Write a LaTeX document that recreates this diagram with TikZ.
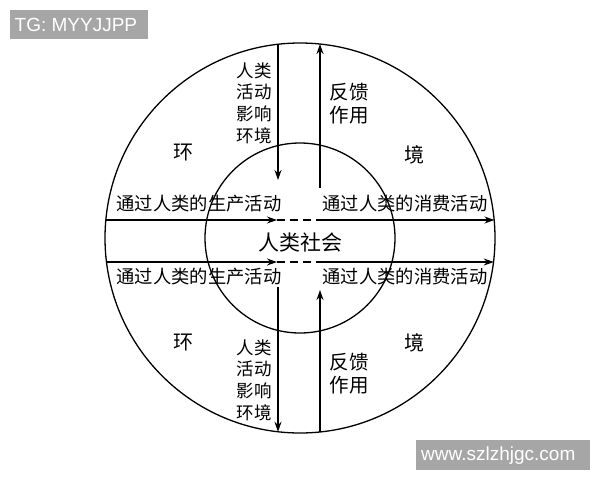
\documentclass[tikz,border=0pt]{standalone}
\usepackage{fontspec}
\newfontfamily\cjk{Noto Sans CJK SC}
\newfontfamily\wm{Liberation Sans}
\usetikzlibrary{arrows.meta}
\begin{document}
\begin{tikzpicture}[x=1pt,y=-1pt,
  ln/.style={line width=1.3pt},
  arr/.style={ln,-{Stealth[length=10pt,width=7pt]}},
  dsh/.style={ln,dash pattern=on 8pt off 5pt},
  lbl/.style={font=\cjk\fontsize{17.5}{21.7}\selectfont,inner sep=0pt,align=center},
  fb/.style={font=\cjk\fontsize{19.5}{23}\selectfont,inner sep=0pt,align=center},
  big/.style={font=\cjk\fontsize{20}{22}\selectfont,inner sep=0pt},
  wmtext/.style={text=white,font=\wm\fontsize{19}{22}\selectfont,inner sep=0pt,anchor=west}]
\useasboundingbox (0,0) rectangle (600,480);
\fill[white] (0,0) rectangle (600,480);
% watermarks
\fill[black!35] (10,10) rectangle (148,39);
\node[wmtext] (tg) at (14.5,25) {TG: MYYJJPP};
\fill[black!35] (416,440) rectangle (590,470);
\node[wmtext] (www) at (421,455.5) {www.szlzhjgc.com};
% circles
\node[circle,draw,ln,minimum size=390pt,inner sep=0pt] (outer) at (300,238) {};
\node[circle,draw,ln,minimum size=190pt,inner sep=0pt] (inner) at (300,238) {};
% coordinates
\coordinate (hl1) at (105.8,220);
\coordinate (hm1a) at (277,220);
\coordinate (hm1b) at (318,220);
\coordinate (hr1) at (494.4,220);
\coordinate (hl2) at (106.5,262);
\coordinate (hm2a) at (277,262);
\coordinate (hm2b) at (318,262);
\coordinate (hr2) at (493.8,262);
\coordinate (vt1) at (278,44.2);
\coordinate (vb1) at (278,180);
\coordinate (vt2) at (320,44);
\coordinate (vb2) at (320,188);
\coordinate (vt3) at (278,287);
\coordinate (vb3) at (278,431.8);
\coordinate (vt4) at (320,290);
\coordinate (vb4) at (320,432);
% horizontal
\draw[arr] (hl1) -- (hm1a);
\draw[dsh] (hm1a) -- (hm1b);
\draw[arr] (hm1b) -- (hr1);
\draw[arr] (hl2) -- (hm2a);
\draw[dsh] (hm2a) -- (hm2b);
\draw[arr] (hm2b) -- (hr2);
% vertical
\draw[arr] (vt1) -- (vb1);
\draw[arr] (vb2) -- (vt2);
\draw[arr] (vt3) -- (vb3);
\draw[arr] (vb4) -- (vt4);
% labels
\node[big] (h1) at (183,153) {环};
\node[big] (j1) at (414,155) {境};
\node[big] (h2) at (183,343) {环};
\node[big] (j2) at (414,343) {境};
\node[lbl] (a1) at (254,103) {人类\\活动\\影响\\环境};
\node[fb] (f1) at (349,104) {反馈\\作用};
\node[lbl] (a2) at (254,380) {人类\\活动\\影响\\环境};
\node[fb] (f2) at (349,374) {反馈\\作用};
\node[lbl,font=\cjk\fontsize{18.3}{22}\selectfont] (p1) at (199,204) {通过人类的生产活动};
\node[lbl,font=\cjk\fontsize{18.3}{22}\selectfont] (c1) at (405,204) {通过人类的消费活动};
\node[lbl,font=\cjk\fontsize{18.3}{22}\selectfont] (p2) at (199,277) {通过人类的生产活动};
\node[lbl,font=\cjk\fontsize{18.3}{22}\selectfont] (c2) at (405,277) {通过人类的消费活动};
\node[lbl,font=\cjk\fontsize{21}{24}\selectfont] (soc) at (300,242) {人类社会};
\end{tikzpicture}
\end{document}
